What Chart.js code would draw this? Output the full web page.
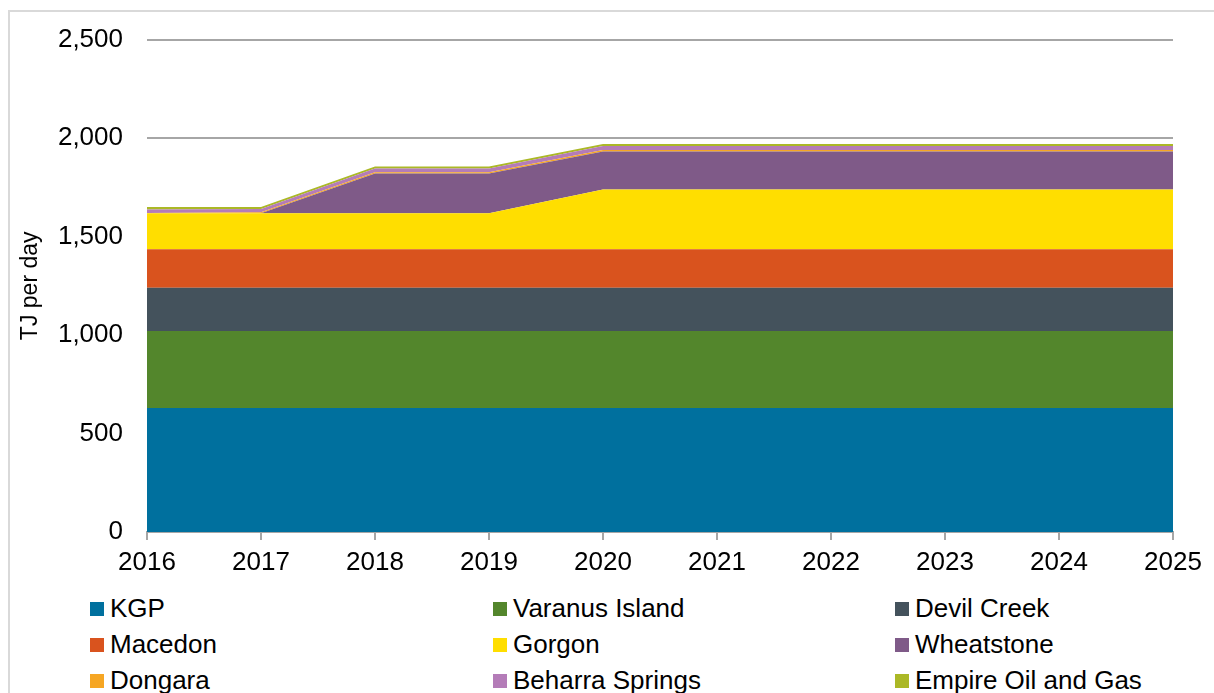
<!DOCTYPE html>
<html>
<head>
<meta charset="utf-8">
<script src="https://cdn.jsdelivr.net/npm/chart.js@4.4.1/dist/chart.umd.min.js"></script>
<style>
    html, body { margin: 0; padding: 0; background: #fff; }
    body { width: 1214px; height: 693px; position: relative; overflow: hidden; font-family: 'Liberation Sans', Arial, sans-serif; }
    .frame { position: absolute; left: 8px; top: 10px; width: 1220px; height: 700px; border-left: 2px solid #d9d9d9; border-top: 2px solid #d9d9d9; }
    .plot { position: absolute; left: 0; top: 0; width: 1214px; height: 590px; }
    #legend { position: absolute; left: 90px; top: 590px; width: 1120px; }
    .item { position: absolute; display: flex; align-items: center; font-size: 26px; color: #000; white-space: nowrap; }
    .swatch { width: 14px; height: 14px; margin-right: 6px; }
</style>
</head>
<body>
<div class="frame"></div>
<div class="plot"><canvas id="gasChart" width="1214" height="590"></canvas></div>
<div id="legend"></div>
<script>
// years on the x axis
const years = ['2016', '2017', '2018', '2019', '2020', '2021', '2022', '2023', '2024', '2025'];

// TJ per day by facility
const kgp       = [630, 630, 630, 630, 630, 630, 630, 630, 630, 630];
const varanus   = [390, 390, 390, 390, 390, 390, 390, 390, 390, 390];
const devilCreek = [220, 220, 220, 220, 220, 220, 220, 220, 220, 220];
const macedon   = [195, 195, 195, 195, 195, 195, 195, 195, 195, 195];
const gorgon    = [183, 183, 183, 183, 304, 304, 304, 304, 304, 304];
const wheatstone = [0, 0, 202, 202, 193, 193, 193, 193, 193, 193];
const dongara   = [2, 5, 7, 7, 8, 8, 8, 8, 8, 8];
const beharra   = [18, 17, 18, 18, 20, 20, 20, 20, 20, 20];
const empire    = [12, 10, 11, 11, 10, 10, 10, 10, 10, 10];

const seriesNames = ['KGP', 'Varanus Island', 'Devil Creek', 'Macedon', 'Gorgon', 'Wheatstone', 'Dongara', 'Beharra Springs', 'Empire Oil and Gas'];
const seriesData = [kgp, varanus, devilCreek, macedon, gorgon, wheatstone, dongara, beharra, empire];
const seriesColors = ['#00709e', '#53862c', '#44525c', '#d9531e', '#ffde00', '#7f5a88', '#f6a623', '#b47cb8', '#abb826'];

const yTicks = [0, 500, 1000, 1500, 2000, 2500];

Chart.defaults.font.family = "'Liberation Sans', Arial, sans-serif";
Chart.defaults.color = '#000';

const datasets = seriesNames.map((name, i) => ({
    label: name,
    data: seriesData[i],
    backgroundColor: seriesColors[i],
    borderColor: seriesColors[i],
    borderWidth: 0,
    pointRadius: 0,
    tension: 0,
    fill: i === 0 ? 'origin' : '-1'
}));

new Chart(document.getElementById('gasChart'), {
    type: 'line',
    data: { labels: years, datasets: datasets },
    options: {
        responsive: false,
        animation: false,
        layout: { padding: { top: 39, right: 41, left: 0, bottom: 0 } },
        plugins: { legend: { display: false }, tooltip: { enabled: false } },
        scales: {
            x: {
                offset: false,
                grid: { drawOnChartArea: false, drawTicks: true, tickLength: 8, color: '#a6a6a6', lineWidth: 2 },
                border: { display: true, color: '#a6a6a6', width: 2 },
                ticks: { font: { size: 26 }, padding: 7, maxRotation: 0, autoSkip: false },
                afterFit: (scale) => { scale.height = 58; }
            },
            y: {
                stacked: true,
                min: 0,
                max: 2500,
                afterBuildTicks: (scale) => { scale.ticks = yTicks.map(v => ({ value: v })); },
                grid: { color: '#a6a6a6', lineWidth: 2, drawTicks: false },
                border: { display: false },
                ticks: { font: { size: 26 }, padding: 24 },
                title: { display: true, text: 'TJ per day', font: { size: 23 }, padding: { top: 17, bottom: 0 } },
                afterFit: (scale) => { scale.width = 147; }
            }
        }
    }
});

// legend in three fixed columns
const legendBox = document.getElementById('legend');
const colX = [0, 403, 805];
const rowY = [18, 54, 90];
seriesNames.forEach((name, i) => {
    const el = document.createElement('div');
    el.className = 'item';
    el.style.left = colX[i % 3] + 'px';
    el.style.top = (rowY[Math.floor(i / 3)] - 15) + 'px';
    el.innerHTML = '<span class="swatch" style="background:' + seriesColors[i] + '"></span>' + name;
    legendBox.appendChild(el);
});
</script>
</body>
</html>
